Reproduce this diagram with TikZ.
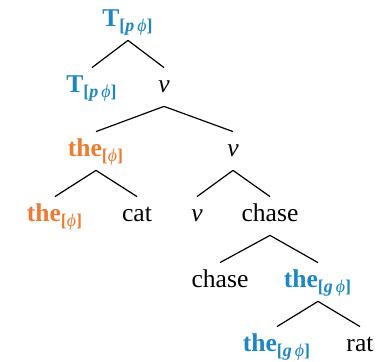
\documentclass[tikz,border=0pt]{standalone}
\usepackage{fontspec}
\setmainfont{Liberation Serif}
\usetikzlibrary{positioning}
\definecolor{FeatBlue}{HTML}{1B87C3}
\definecolor{FeatOrange}{HTML}{F07A30}
\newcommand{\featsub}[1]{\textsubscript{[#1]}}

\begin{document}
\begin{tikzpicture}[x=0.5pt, y=0.5pt,
    every node/.style={font=\fontsize{12.8}{15}\selectfont, anchor=base,
      text height=9pt, text depth=3pt, inner ysep=3.5pt, inner xsep=0pt},
    blueword/.style={text=FeatBlue, font=\fontsize{12.8}{15}\selectfont\bfseries},
    orangeword/.style={text=FeatOrange, font=\fontsize{12.8}{15}\selectfont\bfseries},
    branch/.style={line width=0.6pt, black}]
    \useasboundingbox (0,0) rectangle (387,362);

    % Top: T and its projection
    \node[blueword] (tp) at (128,335) {T\featsub{\textit{p}\,\textmd{\textit{ϕ}}}};
    \node[blueword] (thead) at (92,269) {T\featsub{\textit{p}\,\textmd{\textit{ϕ}}}};
    \node (vp) at (164,269) {\textit{v}};

    % Subject DP
    \node[orangeword] (dp) at (96,205) {the\featsub{\textmd{\textit{ϕ}}}};
    \node (vbar) at (233,205) {\textit{v}};
    \node[orangeword] (dhead) at (55,140) {the\featsub{\textmd{\textit{ϕ}}}};
    \node (cat) at (137,140) {cat};
    \node (vhead) at (197,140) {\textit{v}};
    \node (chasep) at (270,140) {chase};

    % Object DP
    \node (chase) at (220,74) {chase};
    \node[blueword] (objdp) at (318,74) {the\featsub{\textit{g}\,\textmd{\textit{ϕ}}}};
    \node[blueword] (objhead) at (277,10) {the\featsub{\textit{g}\,\textmd{\textit{ϕ}}}};
    \node (rat) at (360,10) {rat};

    % Branches
    \draw[branch] (tp.south) -- (thead.north);
    \draw[branch] (tp.south) -- (vp.north);
    \draw[branch] (vp.south) -- (dp.north);
    \draw[branch] (vp.south) -- (vbar.north);
    \draw[branch] (dp.south) -- (dhead.north);
    \draw[branch] (dp.south) -- (cat.north);
    \draw[branch] (vbar.south) -- (vhead.north);
    \draw[branch] (vbar.south) -- (chasep.north);
    \draw[branch] (chasep.south) -- (chase.north);
    \draw[branch] (chasep.south) -- (objdp.north);
    \draw[branch] (objdp.south) -- (objhead.north);
    \draw[branch] (objdp.south) -- (rat.north);
\end{tikzpicture}
\end{document}
